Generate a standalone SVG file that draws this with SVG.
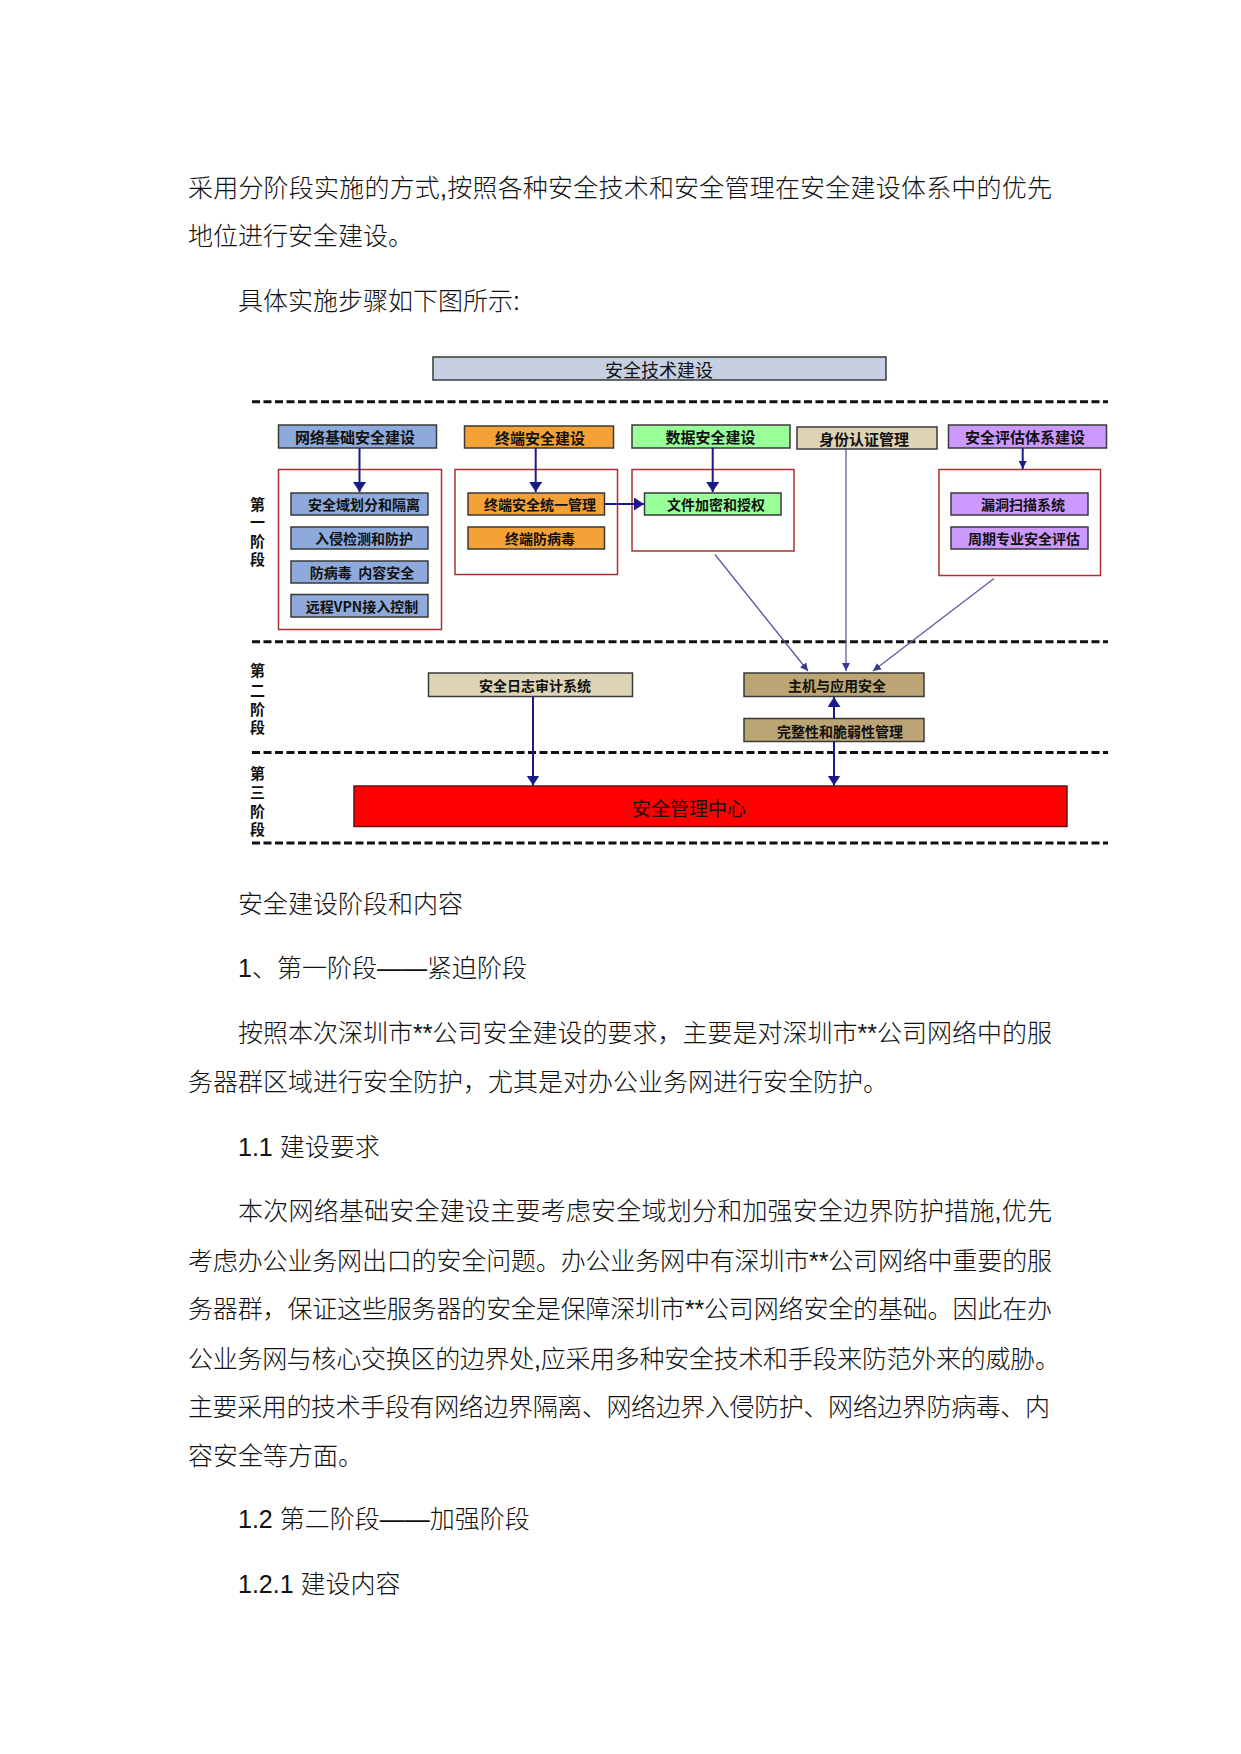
<svg xmlns="http://www.w3.org/2000/svg" width="1241" height="1754" viewBox="0 0 1241 1754">
<style>
.p{font-family:"Liberation Sans","Noto Sans CJK SC",sans-serif;font-size:25px;fill:#111;font-weight:300}
.lbl{font-family:"Noto Sans CJK SC",sans-serif;font-weight:bold;fill:#111;text-anchor:middle;dominant-baseline:central}
.h{font-size:15px}
.s{font-size:14px}
.ph{font-family:"Noto Sans CJK SC",sans-serif;font-weight:bold;font-size:15px;fill:#111;text-anchor:middle;dominant-baseline:central}
.box{stroke:#3a3a3a;stroke-width:1.5}
.grp{fill:none;stroke:#a83232;stroke-width:1.5}
.dash{stroke:#111;stroke-width:3;stroke-dasharray:8 3.5}
.arr{stroke:#1a1a8a;stroke-width:2;fill:none}
.thin{stroke:#5a5aa0;stroke-width:1.3;fill:none}
</style>
<defs>
<marker id="big" markerUnits="userSpaceOnUse" markerWidth="12" markerHeight="14" refX="10" refY="6.5" orient="auto"><path d="M0,0 L10,6.5 L0,13 z" fill="#1a1a8a"/></marker>
<marker id="sm" markerUnits="userSpaceOnUse" markerWidth="10" markerHeight="10" refX="8" refY="4" orient="auto"><path d="M0,0 L8,4 L0,8 z" fill="#1a1a8a"/></marker>
<marker id="smt" markerUnits="userSpaceOnUse" markerWidth="10" markerHeight="10" refX="8" refY="4" orient="auto"><path d="M0,0 L8,4 L0,8 z" fill="#3a3a90"/></marker>
</defs>
<rect width="1241" height="1754" fill="#fff"/>

<g id="text-top">
<text class="p" x="188" y="197" textLength="864" lengthAdjust="spacing">采用分阶段实施的方式,按照各种安全技术和安全管理在安全建设体系中的优先</text>
<text class="p" x="188" y="245">地位进行安全建设。</text>
<text class="p" x="238" y="309.5">具体实施步骤如下图所示:</text>
</g>

<g id="separators">
<line class="dash" x1="252" y1="401.7" x2="1108" y2="401.7"/>
<line class="dash" x1="252" y1="641.7" x2="1108" y2="641.7"/>
<line class="dash" x1="252" y1="752.5" x2="1108" y2="752.5"/>
<line class="dash" x1="252" y1="843" x2="1108" y2="843"/>
</g>

<g id="title">
<rect x="433" y="357" width="453" height="23" fill="#c6d0e2" class="box"/>
<text x="659" y="369" font-family="Noto Sans CJK SC,sans-serif" font-size="18" fill="#111" text-anchor="middle" dominant-baseline="central">安全技术建设</text>
</g>

<g id="phase-labels">
<text class="ph" x="257.5" y="503">第</text><text class="ph" x="257.5" y="521.5">一</text><text class="ph" x="257.5" y="540">阶</text><text class="ph" x="257.5" y="558.5">段</text>
<text class="ph" x="257.5" y="669.5">第</text><text class="ph" x="257.5" y="689">二</text><text class="ph" x="257.5" y="708">阶</text><text class="ph" x="257.5" y="726.5">段</text>
<text class="ph" x="257.5" y="772">第</text><text class="ph" x="257.5" y="791">三</text><text class="ph" x="257.5" y="810">阶</text><text class="ph" x="257.5" y="828.5">段</text>
</g>

<g id="n-network"><rect x="278.5" y="425" width="158" height="23" fill="#8eaadb" class="box"/><text class="lbl h" x="355" y="436.5">网络基础安全建设</text></g>
<g id="n-terminal"><rect x="464.5" y="426" width="149" height="22" fill="#f4a236" class="box"/><text class="lbl h" x="540" y="437">终端安全建设</text></g>
<g id="n-data"><rect x="632" y="425" width="158" height="23" fill="#99ff99" class="box"/><text class="lbl h" x="710.5" y="436.5">数据安全建设</text></g>
<g id="n-identity"><rect x="797" y="427" width="140" height="22" fill="#ddd4b6" class="box"/><text class="lbl h" x="864" y="438">身份认证管理</text></g>
<g id="n-assess"><rect x="948.5" y="425" width="158" height="23" fill="#cc99ff" class="box"/><text class="lbl h" x="1025" y="436.5">安全评估体系建设</text></g>

<g id="g-network">
<rect class="grp" x="278.5" y="469.5" width="163" height="160"/>
<rect x="291" y="493" width="137" height="22" fill="#8eaadb" class="box"/><text class="lbl s" x="364" y="504">安全域划分和隔离</text>
<rect x="291" y="527" width="137" height="22" fill="#8eaadb" class="box"/><text class="lbl s" x="364" y="538">入侵检测和防护</text>
<rect x="291" y="561" width="137" height="22" fill="#8eaadb" class="box"/><text class="lbl s" x="362" y="572" xml:space="preserve">防病毒  内容安全</text>
<rect x="291" y="594.5" width="137" height="22.5" fill="#8eaadb" class="box"/><text class="lbl s" x="362" y="606">远程VPN接入控制</text>
</g>
<g id="g-terminal">
<rect class="grp" x="455" y="469.5" width="162.5" height="105"/>
<rect x="468" y="493" width="136.5" height="22" fill="#f4a236" class="box"/><text class="lbl s" x="540" y="504">终端安全统一管理</text>
<rect x="468" y="527" width="136.5" height="22" fill="#f4a236" class="box"/><text class="lbl s" x="540" y="538">终端防病毒</text>
</g>
<g id="g-data">
<rect class="grp" x="632" y="469.5" width="162" height="81.5"/>
<rect x="644.5" y="493" width="136.5" height="22" fill="#99ff99" class="box"/><text class="lbl s" x="716" y="504">文件加密和授权</text>
</g>
<g id="g-assess">
<rect class="grp" x="939" y="469.5" width="161.5" height="106"/>
<rect x="951" y="493" width="137" height="22" fill="#cc99ff" class="box"/><text class="lbl s" x="1023" y="504">漏洞扫描系统</text>
<rect x="951" y="527" width="137" height="22" fill="#cc99ff" class="box"/><text class="lbl s" x="1024" y="538">周期专业安全评估</text>
</g>

<g id="n-log"><rect x="428.5" y="673" width="204" height="23.5" fill="#ddd4b6" class="box"/><text class="lbl s" x="535" y="685">安全日志审计系统</text></g>
<g id="n-host"><rect x="744" y="673" width="180" height="23.5" fill="#bba574" class="box"/><text class="lbl s" x="837" y="685">主机与应用安全</text></g>
<g id="n-integrity"><rect x="744" y="718.5" width="180" height="23" fill="#bba574" class="box"/><text class="lbl s" x="840" y="730.5">完整性和脆弱性管理</text></g>

<g id="n-center"><rect x="354" y="786" width="713" height="40.5" fill="#ff0000" stroke="#6b1010" stroke-width="1.5"/><text x="632" y="807" font-family="Noto Sans CJK SC,sans-serif" font-size="19" fill="#111" dominant-baseline="central">安全管理中心</text></g>

<g id="connectors">
<line class="arr" x1="359.5" y1="448" x2="359.5" y2="492" marker-end="url(#big)"/>
<line class="arr" x1="535.7" y1="448" x2="535.7" y2="492" marker-end="url(#big)"/>
<line class="arr" x1="712.7" y1="448" x2="712.7" y2="492" marker-end="url(#big)"/>
<line class="arr" x1="604.5" y1="504" x2="644" y2="504" marker-end="url(#big)"/>
<line class="arr" x1="1022.7" y1="448" x2="1022.7" y2="469" stroke-width="1.5" marker-end="url(#sm)"/>
<line class="thin" x1="846" y1="449" x2="846" y2="671" stroke="#6a6aa8" marker-end="url(#smt)"/>
<line class="thin" x1="715" y1="554.5" x2="808" y2="671" marker-end="url(#smt)"/>
<line class="thin" x1="994" y1="578.5" x2="873" y2="671" marker-end="url(#smt)"/>
<line class="arr" x1="533" y1="696.5" x2="533" y2="785.5" marker-end="url(#big)"/>
<line class="arr" x1="834" y1="718.5" x2="834" y2="697" marker-end="url(#big)"/>
<line class="arr" x1="834" y1="741.5" x2="834" y2="785.5" marker-end="url(#big)"/>
</g>

<g id="text-bottom">
<text class="p" x="238" y="913">安全建设阶段和内容</text>
<text class="p" x="238" y="977">1、第一阶段——紧迫阶段</text>
<text class="p" x="238" y="1041.5" textLength="814" lengthAdjust="spacing">按照本次深圳市**公司安全建设的要求，主要是对深圳市**公司网络中的服</text>
<text class="p" x="188" y="1091">务器群区域进行安全防护，尤其是对办公业务网进行安全防护。</text>
<text class="p" x="238" y="1156">1.1 建设要求</text>
<text class="p" x="238" y="1220" textLength="814" lengthAdjust="spacing">本次网络基础安全建设主要考虑安全域划分和加强安全边界防护措施,优先</text>
<text class="p" x="188" y="1269.5" textLength="864" lengthAdjust="spacing">考虑办公业务网出口的安全问题。办公业务网中有深圳市**公司网络中重要的服</text>
<text class="p" x="188" y="1318" textLength="864" lengthAdjust="spacing">务器群，保证这些服务器的安全是保障深圳市**公司网络安全的基础。因此在办</text>
<text class="p" x="188" y="1368" textLength="872" lengthAdjust="spacing">公业务网与核心交换区的边界处,应采用多种安全技术和手段来防范外来的威胁。</text>
<text class="p" x="188" y="1416" textLength="862" lengthAdjust="spacing">主要采用的技术手段有网络边界隔离、网络边界入侵防护、网络边界防病毒、内</text>
<text class="p" x="188" y="1464.5">容安全等方面。</text>
<text class="p" x="238" y="1528">1.2 第二阶段——加强阶段</text>
<text class="p" x="238" y="1593">1.2.1 建设内容</text>
</g>
</svg>
